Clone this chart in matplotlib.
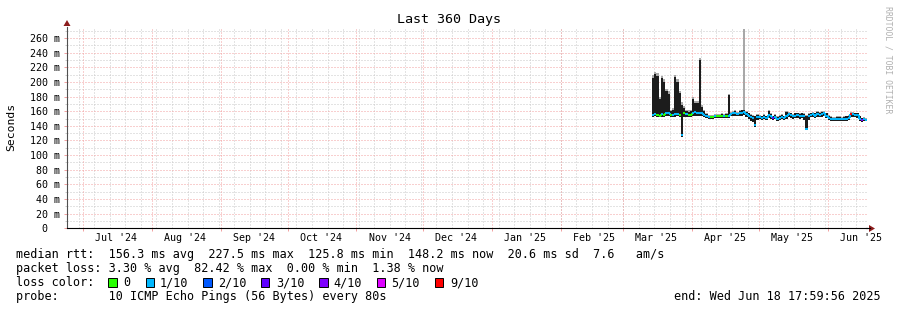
import numpy as np
import pandas as pd
import matplotlib
matplotlib.use('Agg')
import matplotlib.pyplot as plt
import matplotlib.dates as mdates
from matplotlib.patches import Rectangle, Polygon
from matplotlib.ticker import FixedLocator, FixedFormatter
from datetime import datetime, timedelta

W, H = 897, 310
MONO = 'DejaVu Sans Mono'

# time window of the graph (360 days ending at the "end:" stamp)
t_end = datetime(2025, 6, 18, 17, 59, 56)
t_start = t_end - timedelta(days=360)
first_day = '2025-03-14'

# one value per day, Mar 14 .. Jun 18 2025 (ms)
median_ms = [155, 156, 155, 154, 156, 155, 157, 157, 155, 155, 156, 156, 155, 127, 157, 156, 155, 155,
             158, 159, 158, 158, 157, 155, 153, 152, 152, 152, 153, 153, 153, 153, 153, 154, 154, 156,
             157, 157, 156, 157, 158, 159, 156, 154, 152, 151, 141, 152,
             152, 151, 152, 151, 155, 153, 151, 152, 150, 151, 152, 151, 154, 156, 155, 153, 154, 155,
             153, 154, 153, 136, 153, 155, 156, 154, 156, 155, 156, 157, 154,
             151, 150, 149, 149, 149, 150, 149, 150, 150, 151, 156, 156, 155, 155, 150, 148, 149, 148]
smoke_lo = [152, 153, 152, 152, 152, 152, 153, 153, 152, 152, 152, 153, 152, 125, 152, 152, 152, 152,
            153, 153, 153, 153, 153, 152, 151, 150, 150, 150, 151, 151, 151, 151, 151, 151, 151, 153,
            154, 153, 153, 154, 154, 155, 152, 150, 147, 145, 139, 148,
            149, 148, 149, 148, 151, 150, 148, 149, 147, 148, 149, 148, 150, 152, 151, 150, 151, 151,
            150, 151, 148, 134, 148, 152, 152, 151, 152, 152, 152, 153, 151,
            148, 147, 146, 146, 146, 147, 146, 147, 147, 148, 152, 152, 152, 151, 147, 145, 146, 146]
smoke_hi = [205, 211, 208, 176, 205, 200, 187, 184, 160, 162, 207, 200, 185, 168, 164, 160, 159, 160,
            176, 171, 171, 230, 166, 160, 156, 154, 154, 154, 155, 155, 155, 156, 155, 156, 182, 158,
            159, 160, 158, 160, 161, 162, 159, 157, 155, 154, 153, 155,
            154, 153, 155, 153, 160, 156, 153, 155, 152, 154, 155, 153, 159, 158, 157, 155, 157, 157,
            156, 157, 156, 154, 156, 157, 158, 157, 159, 158, 159, 159, 157,
            154, 152, 151, 151, 152, 152, 151, 152, 153, 154, 158, 158, 157, 157, 153, 150, 151, 150]
smoke_top = [210, 214, 212, 180, 208, 204, 190, 188, 162, 164, 210, 204, 188, 172, 167, 162, 161, 162,
             180, 174, 174, 232, 168, 161, 157, 155, 155, 155, 156, 156, 156, 157, 156, 157, 184, 159,
             160, 161, 159, 161, 162, 272, 160, 158, 156, 155, 154, 156,
             155, 154, 156, 154, 161, 157, 154, 156, 153, 155, 156, 154, 160, 159, 158, 156, 158, 158,
             157, 158, 157, 155, 157, 158, 159, 158, 160, 159, 160, 160, 158,
             155, 153, 152, 152, 153, 153, 152, 153, 154, 155, 159, 159, 158, 158, 154, 151, 152, 151]
loss_idx = [1, 1, 0, 0, 1, 0, 1, 1, 0, 1, 1, 1, 0, 1, 0, 1, 0, 0,
            1, 1, 1, 1, 1, 1, 1, 1, 0, 0, 1, 0, 0, 0, 1, 0, 1, 1,
            1, 1, 1, 1, 1, 1, 1, 1, 1, 1, 1, 1,
            1, 1, 1, 1, 1, 1, 3, 1, 1, 1, 1, 1, 1, 1, 1, 1, 1, 1,
            1, 1, 1, 1, 1, 1, 1, 1, 1, 1, 1, 1, 1,
            1, 1, 1, 1, 1, 1, 1, 1, 1, 1, 6, 1, 1, 1, 1, 4, 1, 1]

loss_labels = ['0', '1/10', '2/10', '3/10', '4/10', '5/10', '9/10']
loss_colors = ['#26ff00', '#00b8ff', '#0059ff', '#5e00ff', '#7e00ff', '#dd00ff', '#ff0000']

y_major = list(range(0, 261, 20))
y_minor = list(range(10, 271, 20))
y_labels = ['0  '] + [f'{v} m' for v in y_major[1:]]

GRID = '#c8c8c8'
MGRID = '#f2a0a0'
ARROW = '#8c1c1c'


def px(x, y):
    """pixel (from top-left) -> figure fraction"""
    return x / W, 1 - y / H


days = pd.date_range(first_day, periods=len(median_ms), freq='D')
x0 = mdates.date2num(days.to_pydatetime())
x1 = x0 + 1

fig = plt.figure(figsize=(W / 100, H / 100), dpi=100)
ax = fig.add_axes([67 / W, 1 - 228.3 / H, 800 / W, (228.3 - 27) / H])
ax.set_xlim(mdates.date2num(t_start), mdates.date2num(t_end))
ax.set_ylim(0, 275)

# grid: sparse dotted lines (rrdtool style)
dots = (0, (1, 2))
gkw = dict(lw=0.72, ls=dots)
for v in y_minor:
    ax.axhline(v, color=GRID, zorder=0, **gkw)
wk = datetime(2024, 6, 29)
while wk < t_end:
    ax.axvline(mdates.date2num(wk), color=GRID, zorder=0, **gkw)
    wk += timedelta(days=7)
for v in y_major[1:]:
    ax.axhline(v, color=MGRID, zorder=0.5, **gkw)
months = pd.date_range('2024-07-01', '2025-06-01', freq='MS').to_pydatetime()
for m in months:
    ax.axvline(mdates.date2num(m), color=MGRID, zorder=0.5, **gkw)

# smoke
ax.bar(x0, np.array(smoke_top) - np.array(smoke_lo), bottom=smoke_lo, width=1, align='edge',
       color='#a8a8a8', linewidth=0, zorder=2)
ax.bar(x0, np.array(smoke_hi) - np.array(smoke_lo), bottom=smoke_lo, width=1, align='edge',
       color='#1c1c1c', linewidth=0, zorder=3)

# median, coloured by loss
n = len(median_ms)
for i in range(n):
    c = loss_colors[loss_idx[i]]
    ax.plot([x0[i], x1[i]], [median_ms[i]] * 2, color=c, lw=1.4, solid_capstyle='butt', zorder=4)
    if i + 1 < n and abs(median_ms[i + 1] - median_ms[i]) <= 6:
        ax.plot([x1[i]] * 2, [median_ms[i], median_ms[i + 1]], color=c, lw=1.4,
                solid_capstyle='butt', zorder=4)

# axes / ticks
for s in ['top', 'right']:
    ax.spines[s].set_visible(False)
ax.spines['left'].set_color('#505050')
ax.spines['left'].set_linewidth(0.8)
ax.spines['bottom'].set_color('black')
ax.spines['bottom'].set_linewidth(0.8)
ax.spines['bottom'].set_zorder(5)

ax.yaxis.set_major_locator(FixedLocator(y_major))
ax.yaxis.set_major_formatter(FixedFormatter(y_labels))
ax.yaxis.set_minor_locator(FixedLocator(y_minor))
ax.tick_params(axis='y', which='major', length=2.2, width=0.7, color=MGRID, pad=2.8,
               labelsize=7.2, labelfontfamily=MONO)
ax.tick_params(axis='y', which='minor', length=1.5, width=0.7, color=GRID)

label_days = [mdates.date2num(m.replace(day=16)) for m in months]
ax.xaxis.set_major_locator(FixedLocator(label_days))
ax.xaxis.set_major_formatter(FixedFormatter([m.strftime("%b '%y") for m in months]))
ax.xaxis.set_minor_locator(FixedLocator([mdates.date2num(m) for m in months]))
ax.tick_params(axis='x', which='major', length=0, pad=3.6, labelsize=7.2, labelfontfamily=MONO)
ax.tick_params(axis='x', which='minor', length=2, width=0.7, color=MGRID)

# axis arrows
fig.patches.append(Polygon([px(63.5, 26), px(70.5, 26), px(67, 20)], closed=True,
                           transform=fig.transFigure, color=ARROW, lw=0))
fig.patches.append(Polygon([px(869, 225), px(869, 232), px(875, 228.5)], closed=True,
                           transform=fig.transFigure, color=ARROW, lw=0))
fig.add_artist(plt.Line2D([px(866, 0)[0], px(870, 0)[0]], [px(0, 228.3)[1]] * 2,
                          color='black', lw=0.8))

# texts
fig.text(0.5, 1 - 19 / H, 'Last 360 Days', ha='center', va='center', fontsize=9.6, family=MONO)
fig.text(11 / W, 1 - 127 / H, 'Seconds', rotation=90, ha='center', va='center',
         fontsize=8.2, family=MONO)
fig.text(888 / W, 1 - 60 / H, 'RRDTOOL / TOBI OETIKER', rotation=-90, ha='center', va='center',
         fontsize=5.9, family=MONO, color='#b0b0b0')

leg_fs = 8.5
rows = [
    'median rtt:  156.3 ms avg  227.5 ms max  125.8 ms min  148.2 ms now  20.6 ms sd  7.6   am/s',
    'packet loss: 3.30 % avg  82.42 % max  0.00 % min  1.38 % now',
    'loss color:',
    'probe:       10 ICMP Echo Pings (56 Bytes) every 80s',
]
baselines = [258, 272, 286, 300]
for txt, yb in zip(rows, baselines):
    fig.text(16 / W, 1 - yb / H, txt, ha='left', va='baseline', fontsize=leg_fs, family=MONO)
fig.text(881 / W, 1 - 300 / H, 'end: Wed Jun 18 17:59:56 2025', ha='right', va='baseline',
         fontsize=leg_fs, family=MONO)

box_x = [108.3, 146, 203.3, 261, 319.3, 377, 435]
lab_x = [123, 160, 218, 276, 333, 391, 450]
for bx, lx, lab, col in zip(box_x, lab_x, loss_labels, loss_colors):
    fx, fy = px(bx, 286.6)
    fig.patches.append(Rectangle((fx, fy), 8.3 / W, 8.3 / H, transform=fig.transFigure,
                                 facecolor=col, edgecolor='black', lw=0.7))
    fig.text(lx / W, 1 - 286 / H, lab, ha='left', va='baseline', fontsize=leg_fs, family=MONO)

fig.savefig('out.png', dpi=100, facecolor='white')
